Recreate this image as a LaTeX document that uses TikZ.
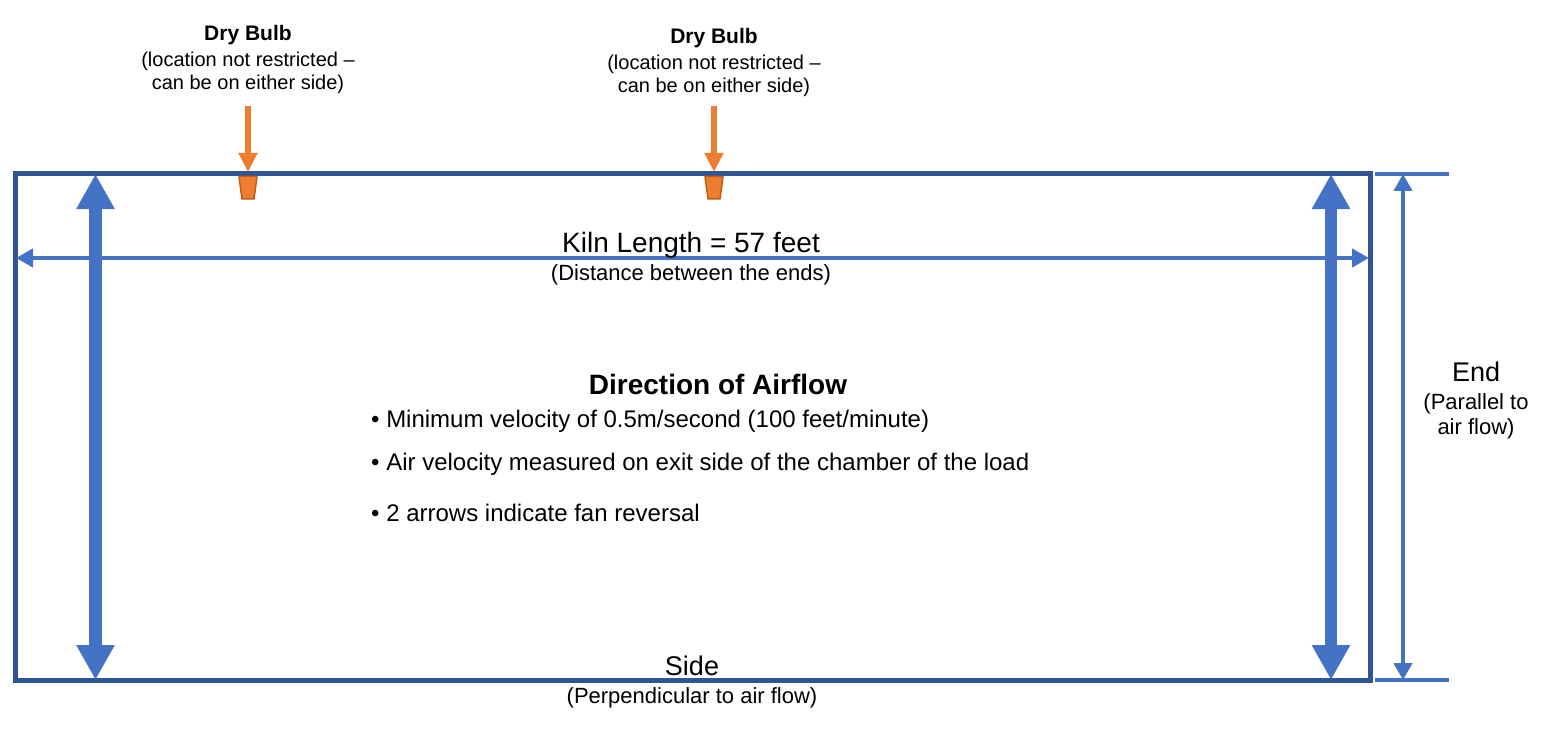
\documentclass[tikz,border=0pt]{standalone}
\usepackage{fontspec}
\setmainfont{Liberation Sans}
\usetikzlibrary{arrows.meta}
\definecolor{framecol}{RGB}{47,85,151}
\definecolor{flowcol}{RGB}{68,114,196}
\definecolor{bulbcol}{RGB}{237,125,49}
\definecolor{bulbedge}{RGB}{197,90,17}
\newcommand{\fsz}[1]{\fontsize{#1}{#1}\selectfont}
\tikzstyle{kiln}=[draw=framecol, line width=5pt]
\tikzstyle{flow}=[flowcol, line width=12.5pt,
{Triangle[width=36pt,length=35pt]}-{Triangle[width=36pt,length=35pt]}]
\tikzstyle{dim}=[flowcol, line width=4.5pt,
{Triangle[width=18pt,length=17pt]}-{Triangle[width=18pt,length=17pt]}]
\tikzstyle{tick}=[flowcol, line width=4.5pt]
\tikzstyle{probe}=[bulbcol, line width=6pt, -{Triangle[width=18pt,length=19pt]}]
\tikzstyle{bulb}=[fill=bulbcol, draw=bulbedge, line width=1.5pt, line join=round]
\tikzstyle{lbl}=[inner sep=0pt, anchor=base]

\begin{document}
\begin{tikzpicture}[x=1pt, y=-1pt]
  \useasboundingbox (0,0) rectangle (1549,738);
  \coordinate (NW) at (15,174);
  \coordinate (SE) at (1370,680);
  % Kiln walls
  \draw[kiln] (NW) rectangle (SE);
  % Fan reversal arrows
  \coordinate (LT) at (95.5,174);
  \coordinate (LB) at (95.5,680);
  \coordinate (RT) at (1331,174);
  \coordinate (RB) at (1331,680);
  \draw[flow] (LT) -- (LB);
  \draw[flow] (RT) -- (RB);
  % Kiln length
  \coordinate (KL) at (16,258);
  \coordinate (KR) at (1369,258);
  \draw[dim] (KL) -- (KR);
  \node[lbl, font=\fsz{28}] (length) at (691,252) {Kiln Length = 57 feet};
  \node[lbl, font=\fsz{22}] (lengthnote) at (691,280) {(Distance between the ends)};
  % End dimension
  \coordinate (ET1) at (1375,174);
  \coordinate (ET2) at (1449,174);
  \coordinate (EB1) at (1375,680);
  \coordinate (EB2) at (1449,680);
  \coordinate (ET) at (1403,174);
  \coordinate (EB) at (1403,680);
  \draw[tick] (ET1) -- (ET2);
  \draw[tick] (EB1) -- (EB2);
  \draw[dim] (ET) -- (EB);
  \node[lbl, font=\fsz{27}] (end) at (1476,381) {End};
  \node[lbl, font=\fsz{22}] (endnoteA) at (1476,409) {(Parallel to};
  \node[lbl, font=\fsz{22}] (endnoteB) at (1476,434) {air flow)};
  % Side
  \node[lbl, font=\fsz{27}] (side) at (692,675) {Side};
  \node[lbl, font=\fsz{22}] (sidenote) at (692,703) {(Perpendicular to air flow)};
  % Dry bulb probes
  \foreach \i/\x/\y in {A/248/41, B/714/44} {
    \node[lbl, font=\bfseries\fsz{21}] (dry\i) at (\x,\y) {Dry Bulb};
    \node[lbl, font=\fsz{20}] (dry\i a) at (\x,\y+26) {(location not restricted –};
    \node[lbl, font=\fsz{20}] (dry\i b) at (\x,\y+49) {can be on either side)};
    \coordinate (probe\i) at (\x,106);
    \coordinate (tip\i) at (\x,172);
    \draw[probe] (probe\i) -- (tip\i);
    \begin{scope}[shift={(\x,0)}]
      \draw[bulb] (-9,176.5) -- (9,176.5) -- (6,199) -- (-6,199) -- cycle;
    \end{scope}
  }
  % Airflow notes
  \node[lbl, font=\bfseries\fsz{28}] (airflow) at (718,394) {Direction of Airflow};
  \node[lbl, anchor=base west, font=\fsz{24}] (noteA) at (371,427)
    {• Minimum velocity of 0.5m/second (100 feet/minute)};
  \node[lbl, anchor=base west, font=\fsz{24}] (noteB) at (371,470)
    {• Air velocity measured on exit side of the chamber of the load};
  \node[lbl, anchor=base west, font=\fsz{24}] (noteC) at (371,521)
    {• 2 arrows indicate fan reversal};
\end{tikzpicture}
\end{document}
